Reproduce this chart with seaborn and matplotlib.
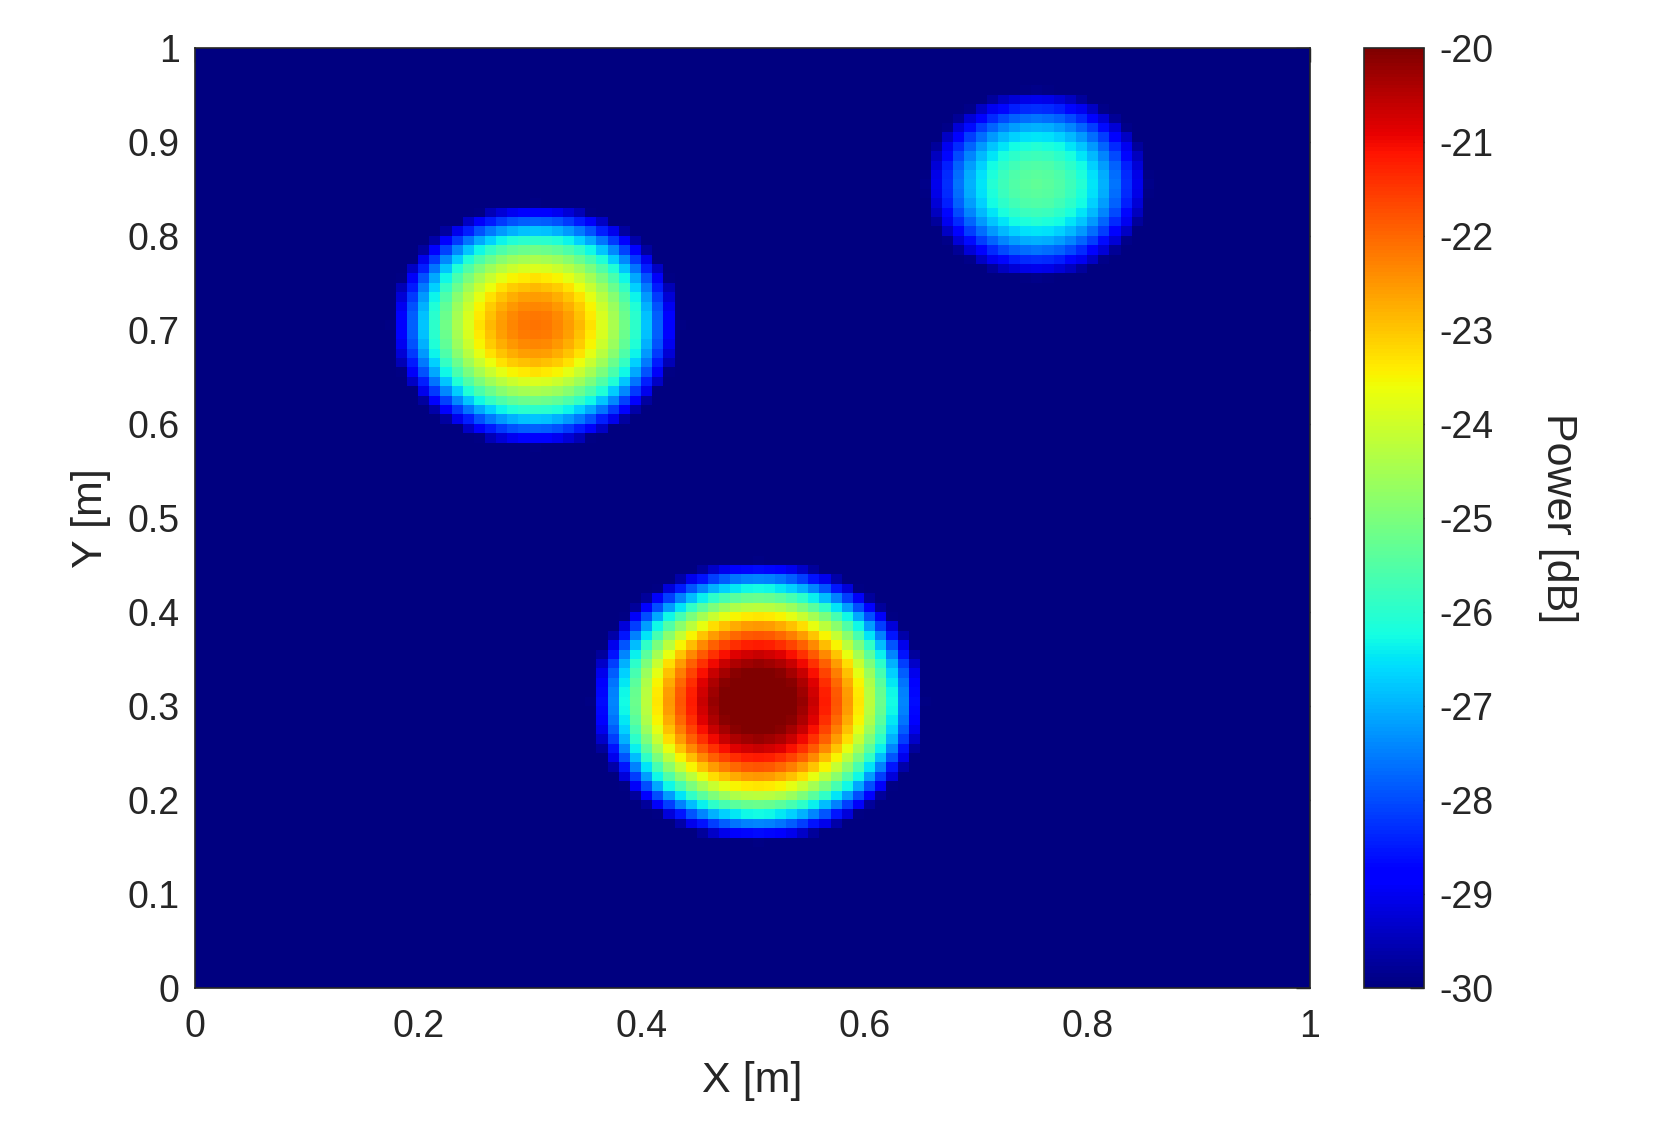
import numpy as np
import pandas as pd
import seaborn as sns
import matplotlib
matplotlib.use("Agg")
import matplotlib.pyplot as plt

# Sources (centre in metres, peak power in dB)
src_x = [0.505, 0.305, 0.755]
src_y = [0.305, 0.705, 0.855]
src_peak_db = [-19.5, -22.2, -25.5]
beam_sigma = 0.067     # same spot width for every source [m]
floor_db = -40.0       # background level, below colour range

n_cells = 100
x_tick_vals = [0, 0.2, 0.4, 0.6, 0.8, 1]
y_tick_vals = [0, 0.1, 0.2, 0.3, 0.4, 0.5, 0.6, 0.7, 0.8, 0.9, 1]
cbar_ticks = [-30, -29, -28, -27, -26, -25, -24, -23, -22, -21, -20]

# Power map on the cell centres
xc = (np.arange(n_cells) + 0.5) / n_cells
yc = (np.arange(n_cells) + 0.5) / n_cells
X, Y = np.meshgrid(xc, yc)
lin = np.full(X.shape, 10 ** (floor_db / 10))
for sx, sy, p in zip(src_x, src_y, src_peak_db):
    r2 = (X - sx) ** 2 + (Y - sy) ** 2
    lin += 10 ** (p / 10) * np.exp(-r2 / (2 * beam_sigma ** 2))
df = pd.DataFrame(10 * np.log10(lin), index=yc, columns=xc)

sns.set_style("white")
plt.rcParams["font.family"] = ["Liberation Sans", "DejaVu Sans"]
txt = "#262626"

fig = plt.figure(figsize=(16.56, 11.39), dpi=100)
ax = fig.add_axes([0.1178, 0.1326, 0.6733, 0.8254])
cax = fig.add_axes([0.8237, 0.1326, 0.0362, 0.8254])

sns.heatmap(df, ax=ax, cbar_ax=cax, cmap="jet", vmin=-30, vmax=-20,
            xticklabels=False, yticklabels=False, rasterized=True)
ax.invert_yaxis()

ax.set_xticks([v * n_cells for v in x_tick_vals])
ax.set_xticklabels(["%g" % v for v in x_tick_vals])
ax.set_yticks([v * n_cells for v in y_tick_vals])
ax.set_yticklabels(["%g" % v for v in y_tick_vals])
ax.tick_params(direction="in", length=10, width=1, top=True, right=True,
               color=txt, labelcolor=txt, labelsize=27, pad=11)
ax.tick_params(axis="x", pad=15)
for s in ax.spines.values():
    s.set_visible(True)
    s.set_color(txt)
    s.set_linewidth(1.2)
ax.set_xlabel("X [m]", fontsize=31, color=txt, labelpad=12)
ax.set_ylabel("Y [m]", fontsize=31, color=txt, labelpad=12)

cbar = ax.collections[0].colorbar
cbar.set_ticks(cbar_ticks)
cbar.set_ticklabels(["%d" % t for t in cbar_ticks])
cbar.outline.set_visible(True)
cbar.outline.set_linewidth(1.2)
cbar.outline.set_edgecolor(txt)
cax.tick_params(direction="in", length=10, width=1, color=txt,
                labelcolor=txt, labelsize=27, pad=11)
cbar.set_label("Power [dB]", rotation=-90, fontsize=31, color=txt,
               labelpad=32, va="bottom")

fig.savefig("out.png", dpi=100, facecolor="white")
